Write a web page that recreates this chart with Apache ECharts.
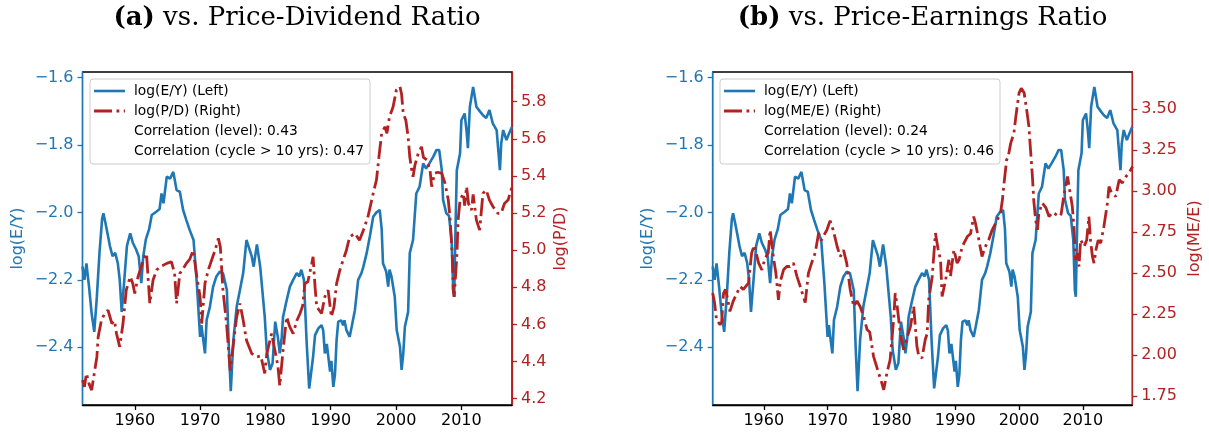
<!DOCTYPE html>
<html>
<head>
<meta charset="utf-8">
<script src="https://cdn.jsdelivr.net/npm/echarts@6/dist/echarts.min.js"></script>
<style>
html,body{margin:0;padding:0;background:#fff;}
#chart{width:1209px;height:435px;}
</style>
</head>
<body>
<div id="chart"></div>
<script>
// ---------- DATA ----------
const xTicks = [1960, 1970, 1980, 1990, 2000, 2010];
const eyTicks = [-2.4, -2.2, -2.0, -1.8, -1.6];
const pdTicks = [4.2, 4.4, 4.6, 4.8, 5.0, 5.2, 5.4, 5.6, 5.8];
const meTicks = [1.75, 2.00, 2.25, 2.50, 2.75, 3.00, 3.25, 3.50];

// log(E/Y)
const eyYears = [1952.0,1952.3,1952.6,1953.0,1953.4,1953.8,1954.2,1954.6,1955.0,1955.2,1955.5,1955.8,1956.2,1956.6,1957.0,1957.4,1957.7,1958.0,1958.4,1958.8,1959.3,1959.7,1960.2,1960.6,1961.0,1961.3,1961.7,1962.2,1962.6,1963.3,1963.8,1964.1,1964.4,1964.9,1965.4,1965.9,1966.4,1966.9,1967.4,1967.9,1968.4,1969.0,1969.5,1970.0,1970.2,1970.75,1971.0,1971.5,1972.0,1972.5,1973.0,1973.5,1974.1,1974.4,1974.7,1975.1,1975.6,1976.1,1976.6,1977.1,1977.4,1977.9,1978.2,1978.7,1979.2,1979.9,1980.2,1980.7,1981.1,1981.5,1981.9,1982.2,1982.5,1982.7,1983.2,1983.75,1984.25,1984.8,1985.2,1985.5,1985.9,1986.3,1986.7,1987.3,1987.6,1988.1,1988.6,1988.85,1989.1,1989.4,1989.9,1990.1,1990.4,1990.65,1990.9,1991.15,1991.6,1991.9,1992.1,1992.4,1992.9,1993.2,1993.7,1994.2,1994.7,1995.0,1995.5,1996.0,1996.5,1997.0,1997.5,1997.8,1998.0,1998.5,1998.8,1999.0,1999.3,1999.8,2000.1,2000.6,2000.85,2001.1,2001.35,2001.85,2002.1,2002.6,2003.1,2003.6,2004.15,2004.6,2005.1,2005.7,2006.2,2006.6,2007.0,2007.2,2007.7,2008.1,2008.5,2008.75,2008.9,2009.1,2009.3,2009.8,2010.0,2010.5,2010.8,2011.0,2011.3,2011.8,2012.3,2012.8,2013.3,2013.8,2014.3,2014.8,2015.4,2015.9,2016.1,2016.4,2016.9,2017.3,2017.75];
const eyValues = [-2.161,-2.20,-2.151,-2.22,-2.30,-2.354,-2.25,-2.12,-2.02,-2.003,-2.03,-2.06,-2.10,-2.13,-2.12,-2.15,-2.20,-2.295,-2.20,-2.10,-2.062,-2.09,-2.11,-2.13,-2.21,-2.13,-2.08,-2.05,-2.008,-1.998,-1.99,-1.944,-1.973,-1.894,-1.90,-1.880,-1.934,-1.939,-1.993,-2.023,-2.052,-2.082,-2.21,-2.369,-2.334,-2.418,-2.319,-2.28,-2.22,-2.19,-2.176,-2.18,-2.23,-2.40,-2.53,-2.378,-2.28,-2.23,-2.18,-2.082,-2.077,-2.13,-2.161,-2.095,-2.161,-2.31,-2.408,-2.467,-2.447,-2.324,-2.369,-2.418,-2.37,-2.31,-2.265,-2.22,-2.20,-2.18,-2.19,-2.17,-2.20,-2.38,-2.522,-2.428,-2.364,-2.344,-2.334,-2.35,-2.418,-2.39,-2.472,-2.44,-2.517,-2.48,-2.378,-2.324,-2.32,-2.335,-2.32,-2.349,-2.369,-2.34,-2.29,-2.20,-2.18,-2.161,-2.121,-2.07,-2.013,-2.00,-1.993,-2.05,-2.151,-2.176,-2.22,-2.17,-2.19,-2.25,-2.349,-2.398,-2.467,-2.42,-2.339,-2.295,-2.121,-2.082,-1.944,-1.924,-1.855,-1.87,-1.855,-1.835,-1.815,-1.815,-1.875,-1.963,-2.003,-2.01,-2.082,-2.23,-2.25,-2.05,-1.875,-1.825,-1.727,-1.707,-1.76,-1.81,-1.687,-1.628,-1.687,-1.70,-1.712,-1.72,-1.697,-1.736,-1.756,-1.875,-1.796,-1.756,-1.786,-1.766,-1.746];

// log(P/D)
const pdYears = [1952.0,1952.3,1952.6,1953.0,1953.4,1953.8,1954.2,1954.4,1954.9,1955.4,1955.9,1956.5,1956.9,1957.2,1957.7,1958.2,1958.7,1959.3,1959.7,1960.0,1960.5,1960.8,1961.3,1961.8,1962.3,1962.8,1963.35,1963.9,1964.9,1965.6,1966.1,1966.4,1966.9,1967.4,1967.9,1968.4,1968.95,1969.5,1970.0,1970.25,1970.75,1971.25,1971.8,1972.3,1972.8,1973.1,1973.5,1974.05,1974.6,1975.1,1975.6,1976.1,1976.6,1977.1,1977.9,1978.65,1979.3,1979.9,1980.2,1980.95,1981.45,1981.9,1982.2,1982.7,1983.25,1983.7,1984.25,1984.8,1985.3,1985.7,1986.05,1986.5,1987.1,1987.3,1987.6,1987.85,1988.6,1989.1,1989.6,1990.1,1990.5,1990.9,1991.4,1991.9,1992.4,1992.9,1993.7,1994.4,1995.0,1995.7,1996.5,1997.0,1997.5,1997.8,1998.3,1998.6,1999.0,1999.55,2000.05,2000.6,2000.85,2001.1,2001.5,2001.85,2002.1,2002.4,2002.6,2002.9,2003.4,2003.9,2004.2,2004.7,2005.2,2005.45,2005.9,2006.4,2007.0,2007.5,2008.0,2008.25,2008.65,2008.75,2008.9,2009.3,2009.5,2009.8,2010.3,2010.5,2010.8,2011.1,2011.55,2011.8,2012.3,2012.8,2013.3,2013.8,2014.3,2014.85,2015.6,2016.1,2016.6,2017.15,2017.75];
const pdValues = [4.30,4.264,4.336,4.28,4.246,4.336,4.425,4.533,4.623,4.659,4.677,4.605,4.62,4.551,4.479,4.605,4.785,4.857,4.82,4.767,4.857,4.89,4.947,4.983,4.713,4.839,4.893,4.911,4.929,4.938,4.875,4.713,4.875,4.90,4.929,4.95,5.0,4.857,4.749,4.605,4.821,4.893,4.95,5.0,5.064,5.018,4.785,4.605,4.353,4.497,4.641,4.713,4.623,4.515,4.443,4.425,4.43,4.336,4.44,4.551,4.461,4.38,4.27,4.461,4.641,4.59,4.55,4.62,4.659,4.70,4.821,4.83,4.929,4.964,4.803,4.695,4.659,4.749,4.785,4.641,4.695,4.821,4.893,4.947,5.0,5.072,5.09,5.054,5.108,5.18,5.306,5.378,5.54,5.63,5.665,5.63,5.719,5.773,5.863,5.881,5.84,5.737,5.70,5.61,5.503,5.432,5.396,5.46,5.522,5.557,5.50,5.486,5.432,5.342,5.414,5.42,5.414,5.36,5.27,5.18,4.946,4.785,4.749,4.964,5.162,5.27,5.306,5.24,5.342,5.25,5.216,5.30,5.162,5.108,5.306,5.324,5.27,5.234,5.198,5.20,5.252,5.27,5.342];

// log(ME/E)
const meYears = [1952.0,1952.3,1952.6,1953.15,1953.4,1953.7,1954.0,1954.3,1954.7,1955.2,1955.8,1956.3,1956.8,1957.6,1958.1,1958.5,1959.2,1959.7,1960.2,1960.7,1961.0,1961.5,1961.9,1962.3,1962.6,1963.1,1963.6,1964.1,1964.65,1965.2,1965.7,1966.2,1966.5,1967.0,1967.5,1968.05,1968.6,1969.0,1969.9,1970.4,1970.9,1971.5,1972.0,1972.5,1973.0,1973.55,1974.1,1974.6,1975.1,1975.65,1976.2,1976.6,1977.2,1978.0,1978.5,1978.8,1979.3,1979.8,1980.35,1980.6,1980.9,1981.4,1981.9,1982.4,1983.0,1983.5,1984.0,1984.3,1984.8,1985.3,1985.6,1985.85,1986.4,1986.9,1987.3,1987.7,1987.95,1988.5,1989.0,1989.25,1989.8,1990.3,1990.6,1991.1,1991.9,1992.4,1992.9,1993.2,1993.7,1994.2,1994.7,1995.25,1995.8,1996.6,1997.1,1997.4,1997.6,1998.05,1998.3,1998.7,1999.2,1999.5,2000.0,2000.35,2000.8,2001.2,2001.55,2001.8,2002.1,2002.3,2002.6,2002.9,2003.1,2003.65,2004.2,2004.7,2005.2,2005.7,2006.25,2006.6,2007.0,2007.6,2007.8,2008.1,2008.35,2008.6,2008.85,2009.15,2009.4,2009.65,2010.2,2010.6,2010.95,2011.2,2011.5,2011.75,2012.1,2012.4,2012.8,2013.3,2013.85,2014.1,2014.5,2015.15,2015.7,2016.2,2016.75,2017.2,2017.8];
const meValues = [2.378,2.317,2.215,2.185,2.20,2.378,2.40,2.35,2.266,2.327,2.378,2.418,2.40,2.439,2.622,2.67,2.561,2.52,2.59,2.622,2.764,2.60,2.50,2.337,2.45,2.52,2.54,2.54,2.561,2.48,2.42,2.357,2.32,2.50,2.561,2.622,2.744,2.70,2.764,2.82,2.76,2.662,2.60,2.64,2.561,2.398,2.296,2.33,2.296,2.235,2.154,2.14,1.992,1.890,1.829,1.788,1.89,1.971,2.215,2.378,2.30,2.134,2.032,2.10,2.175,2.296,2.053,1.992,1.982,2.093,2.13,2.337,2.479,2.744,2.65,2.581,2.357,2.459,2.581,2.479,2.642,2.561,2.58,2.662,2.723,2.74,2.845,2.80,2.703,2.601,2.66,2.703,2.764,2.825,2.866,2.947,3.028,3.191,3.21,3.293,3.354,3.455,3.598,3.628,3.60,3.496,3.394,3.252,3.089,2.947,2.825,2.764,2.866,2.927,2.90,2.845,2.87,2.86,2.845,2.86,2.967,3.089,3.089,2.967,2.906,2.784,2.581,2.622,2.54,2.703,2.662,2.70,2.845,2.70,2.601,2.561,2.65,2.70,2.683,2.784,2.927,3.028,2.99,2.967,3.069,3.05,3.089,3.11,3.15];

// ---------- CHART ----------
const BLUE = '#1f77b4', RED = '#b22222';
const FONT = 'DejaVu Sans';
const zip = (xs, ys) => xs.map((x, i) => [x, ys[i]]);
const fmtNeg = v => (v < 0 ? '\u2212' : '') + Math.abs(v).toFixed(1);

const G = [
  {left: 82.5, top: 72, width: 429.5, height: 333},
  {left: 712.7, top: 72, width: 419.6, height: 333}
];

function xAxis(gi) {
  return {
    type: 'value', gridIndex: gi, min: 1952, max: 2017.75,
    splitLine: {show: false},
    axisLine: {show: true, onZero: false, lineStyle: {color: '#000', width: 1.3}},
    axisTick: {show: true, customValues: xTicks, length: 5, lineStyle: {color: '#000', width: 1.3}},
    axisLabel: {customValues: xTicks, color: '#000', fontFamily: FONT, fontSize: 16, margin: 8, formatter: v => String(Math.round(v))}
  };
}
function yAxis(gi, pos, min, max, ticks, color, fmt, name, gap) {
  return {
    type: 'value', gridIndex: gi, position: pos, min: min, max: max,
    splitLine: {show: false},
    axisLine: {show: true, onZero: false, lineStyle: {color: color, width: 1.3}},
    axisTick: {show: true, customValues: ticks, length: 5, lineStyle: {color: color, width: 1.3}},
    axisLabel: {customValues: ticks, color: color, fontFamily: FONT, fontSize: 16, margin: 9, formatter: fmt},
    name: name, nameLocation: 'middle', nameGap: gap, nameRotate: 90,
    nameTextStyle: {color: color, fontFamily: FONT, fontSize: 16}
  };
}

const dashDot = [18, 4.5, 2.8, 4.5];

function legend(x0, label2, corr1, corr2) {
  const y0 = 79;
  const f = '13.8px ' + FONT;
  return {
    type: 'group', z: 100,
    children: [
      {type: 'rect', shape: {x: x0, y: y0, width: 280, height: 85, r: 3},
       style: {fill: 'rgba(255,255,255,0.8)', stroke: '#cccccc', lineWidth: 1}},
      {type: 'line', shape: {x1: x0 + 4, y1: y0 + 12, x2: x0 + 35, y2: y0 + 12},
       style: {stroke: BLUE, lineWidth: 2.6}},
      {type: 'line', shape: {x1: x0 + 4, y1: y0 + 32, x2: x0 + 35, y2: y0 + 32},
       style: {stroke: RED, lineWidth: 2.8, lineDash: dashDot}},
      {type: 'text', x: x0 + 44, y: y0 + 12, style: {text: 'log(E/Y) (Left)', font: f, fill: '#000', verticalAlign: 'middle'}},
      {type: 'text', x: x0 + 44, y: y0 + 32, style: {text: label2, font: f, fill: '#000', verticalAlign: 'middle'}},
      {type: 'text', x: x0 + 44, y: y0 + 52, style: {text: corr1, font: f, fill: '#000', verticalAlign: 'middle'}},
      {type: 'text', x: x0 + 44, y: y0 + 72, style: {text: corr2, font: f, fill: '#000', verticalAlign: 'middle'}}
    ]
  };
}

function title(cx, tag, rest) {
  return {
    type: 'text', x: cx, y: 18, z: 100,
    style: {
      text: '{b|' + tag + '} ' + rest,
      font: '26px "DejaVu Serif"', fill: '#000',
      align: 'center', verticalAlign: 'middle',
      rich: {b: {font: 'bold 26px "DejaVu Serif"', fill: '#000'}}
    }
  };
}

const chart = echarts.init(document.getElementById('chart'), null, {renderer: 'canvas'});
chart.setOption({
  animation: false,
  backgroundColor: '#fff',
  grid: G.map(g => Object.assign({show: true, borderColor: '#000', borderWidth: 1.3, backgroundColor: 'transparent', outerBoundsMode: 'none', containLabel: false}, g)),
  xAxis: [xAxis(0), xAxis(1)],
  yAxis: [
    yAxis(0, 'left', -2.571, -1.584, eyTicks, BLUE, fmtNeg, 'log(E/Y)', 57),
    yAxis(0, 'right', 4.166, 5.960, pdTicks, RED, v => v.toFixed(1), 'log(P/D)', 41),
    yAxis(1, 'left', -2.571, -1.584, eyTicks, BLUE, fmtNeg, 'log(E/Y)', 57),
    yAxis(1, 'right', 1.695, 3.727, meTicks, RED, v => v.toFixed(2), 'log(ME/E)', 55)
  ],
  series: [
    {type: 'line', xAxisIndex: 0, yAxisIndex: 0, data: zip(eyYears, eyValues), showSymbol: false, symbol: 'none', z: 2,
     lineStyle: {color: BLUE, width: 2.6}},
    {type: 'line', xAxisIndex: 0, yAxisIndex: 1, data: zip(pdYears, pdValues), showSymbol: false, symbol: 'none', z: 3,
     lineStyle: {color: RED, width: 2.8, type: dashDot}},
    {type: 'line', xAxisIndex: 1, yAxisIndex: 2, data: zip(eyYears, eyValues), showSymbol: false, symbol: 'none', z: 2,
     lineStyle: {color: BLUE, width: 2.6}},
    {type: 'line', xAxisIndex: 1, yAxisIndex: 3, data: zip(meYears, meValues), showSymbol: false, symbol: 'none', z: 3,
     lineStyle: {color: RED, width: 2.8, type: dashDot}}
  ],
  graphic: [
    title(297, '(a)', 'vs. Price-Dividend Ratio'),
    title(922.5, '(b)', 'vs. Price-Earnings Ratio'),
    legend(90, 'log(P/D) (Right)', 'Correlation (level): 0.43', 'Correlation (cycle > 10 yrs): 0.47'),
    legend(720, 'log(ME/E) (Right)', 'Correlation (level): 0.24', 'Correlation (cycle > 10 yrs): 0.46')
  ]
});
</script>
</body>
</html>
